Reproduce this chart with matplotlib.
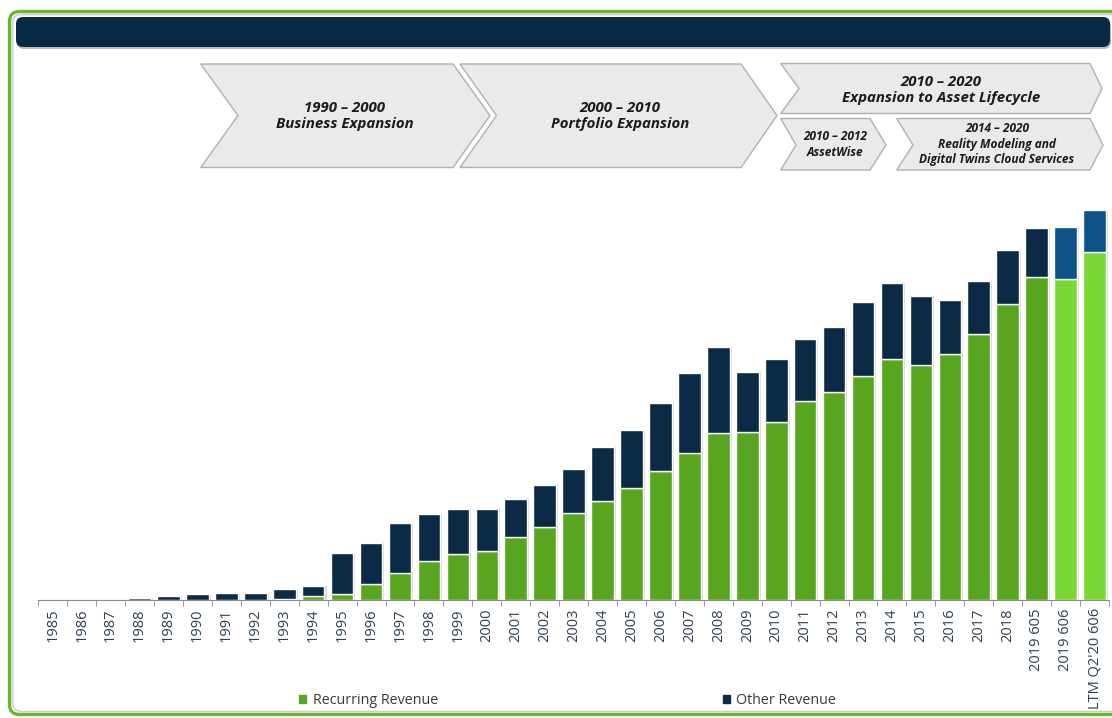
import matplotlib
matplotlib.use("Agg")
import matplotlib.pyplot as plt
import matplotlib.transforms as mtransforms
from matplotlib.patches import Polygon, FancyBboxPatch, Patch

# revenue in $M
years = ["1985", "1986", "1987", "1988", "1989", "1990", "1991", "1992", "1993",
         "1994", "1995", "1996", "1997", "1998", "1999", "2000", "2001", "2002",
         "2003", "2004", "2005", "2006", "2007", "2008", "2009", "2010", "2011",
         "2012", "2013", "2014", "2015", "2016", "2017", "2018",
         "2019 605", "2019 606", "LTM Q2'20 606"]
recurring = [0, 0, 0, 0, 0, 0, 0, 0, 1, 7, 12, 31, 53, 78, 91, 98, 124, 144,
             173, 197, 221, 255, 292, 331, 333, 352, 395, 412, 444, 477, 465,
             487, 527, 586, 640, 635, 689]
other = [0, 0, 0, 3, 8, 11, 14, 14, 20, 20, 82, 81, 100, 93, 90, 83, 77, 84,
         86, 106, 115, 135, 157, 170, 118, 125, 121, 129, 147, 150, 138, 108,
         105, 108, 97, 104, 83]

phases = [
    ("1990 – 2000\nBusiness Expansion", [(200.7, 64), (453, 64), (490, 115.5), (453, 167.5), (200.7, 167.5), (238, 115.5)], (345, 116), 10.8),
    ("2000 – 2010\nPortfolio Expansion", [(460, 64), (741, 64), (777, 115.5), (741, 167.5), (460, 167.5), (496.5, 115.5)], (620, 116), 10.8),
    ("2010 – 2020\nExpansion to Asset Lifecycle", [(780.7, 63.5), (1090, 63.5), (1102, 88.5), (1090, 113.5), (780.7, 113.5), (799, 88.5)], (941, 90), 10.8),
    ("2010 – 2012\nAssetWise", [(780.7, 118.5), (870, 118.5), (886, 145), (870, 170), (780.7, 170), (796, 145)], (835, 144.5), 8.6),
    ("2014 – 2020\nReality Modeling and\nDigital Twins Cloud Services", [(896.7, 118.5), (1090, 118.5), (1103, 145), (1090, 170), (896.7, 170), (913, 145)], (997, 144.5), 8.6),
]

W, H = 1112, 718
GREEN = "#58a51f"
GREEN_LT = "#7ad836"
NAVY = "#0b2a45"
BLUE = "#0e5388"

plt.rcParams["font.family"] = ["Open Sans", "DejaVu Sans"]

fig = plt.figure(figsize=(W / 100, H / 100), dpi=100)
fig.patch.set_facecolor("white")
px = mtransforms.Affine2D().scale(1 / W, -1 / H).translate(0, 1) + fig.transFigure

# outer frame and banner
fig.add_artist(FancyBboxPatch((12.5, 14.5), 1130, 697, boxstyle="round,pad=0,rounding_size=9",
                              transform=px, fc="none", ec="#cfcfcf", lw=1.2))
fig.add_artist(FancyBboxPatch((9.5, 11.5), 1130, 703, boxstyle="round,pad=0,rounding_size=10",
                              transform=px, fc="none", ec="#6cb52d", lw=2.4))
fig.add_artist(FancyBboxPatch((17, 19), 1094, 30, boxstyle="round,pad=0,rounding_size=7",
                              transform=px, fc="#b9bec4", ec="none"))
fig.add_artist(FancyBboxPatch((16, 17), 1094, 30, boxstyle="round,pad=0,rounding_size=7",
                              transform=px, fc="#072a44", ec="none"))

for text, pts, (tx, ty), fs in phases:
    fig.add_artist(Polygon(pts, closed=True, transform=px, fc="#e9eaec", ec="#aeb0b2", lw=1))
    fig.text(tx / W, 1 - ty / H, text, ha="center", va="center", fontsize=fs,
             fontweight="bold", fontstyle="italic", color="#1b1b1b", linespacing=1.25)

# bar chart
ax = fig.add_axes([38.3 / W, (H - 600) / H, (1109 - 38.3) / W, 410 / H])
x = list(range(len(years)))
totals = [r + o for r, o in zip(recurring, other)]
latest = [lab.endswith("606") for lab in years]
rec_colors = [GREEN_LT if f else GREEN for f in latest]
oth_colors = [BLUE if f else NAVY for f in latest]

ax.bar([i + 0.07 for i in x], totals, width=0.78, color="#d9d9d9", zorder=1)
ax.bar(x, recurring, width=0.78, color=rec_colors, edgecolor="white", linewidth=1, zorder=2)
ax.bar(x, other, width=0.78, bottom=recurring, color=oth_colors, edgecolor="white", linewidth=1, zorder=2)

ax.set_xlim(-0.5, 36.5)
ax.set_ylim(0, 812)
for side in ["top", "right", "left"]:
    ax.spines[side].set_visible(False)
ax.spines["bottom"].set_color("#8c8c8c")
ax.spines["bottom"].set_zorder(3)
ax.set_yticks([])
ax.set_xticks(x)
ax.set_xticklabels(years, rotation=90, fontsize=10.5, color="#2f3f4f")
ax.set_xticks([i - 0.5 for i in range(len(years) + 1)], minor=True)
ax.tick_params(axis="x", which="major", length=0, pad=6)
ax.tick_params(axis="x", which="minor", length=4, color="#8a86a0")
ax.patch.set_alpha(0)

handles = [Patch(color=GREEN), Patch(color=NAVY)]
fig.legend(handles, ["Recurring Revenue", "Other Revenue"], loc="center left",
           bbox_to_anchor=(299 / W, 1 - 701 / H), ncol=2, frameon=False, fontsize=10.3,
           handlelength=0.5, handleheight=0.5, handletextpad=0.45, columnspacing=19.9,
           borderaxespad=0, borderpad=0, labelcolor="#3a3a3a")

fig.savefig("out.png", dpi=100)
